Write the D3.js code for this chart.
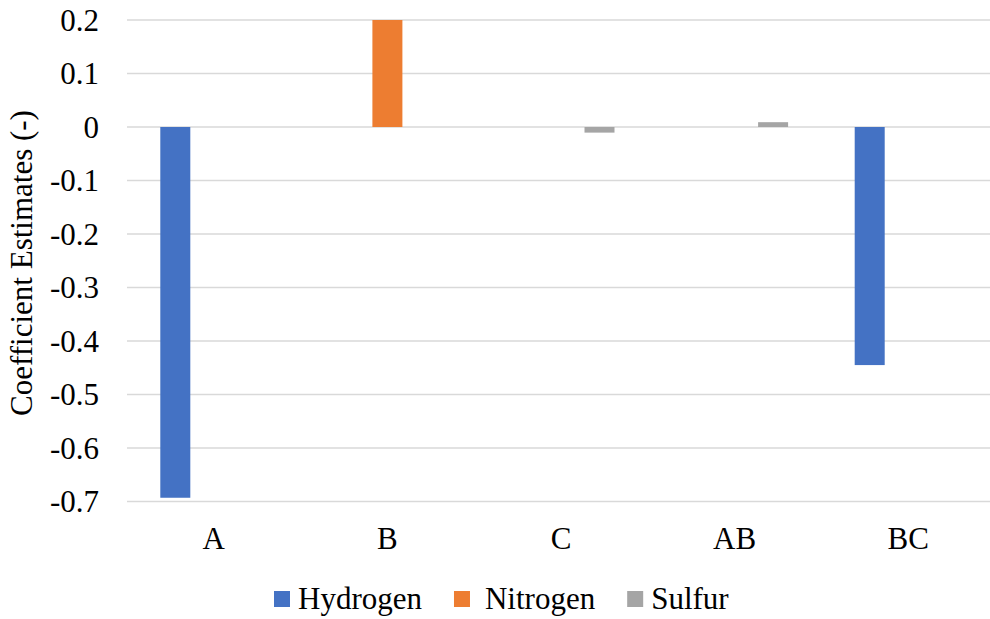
<!DOCTYPE html>
<html>
<head>
<meta charset="utf-8">
<script src="https://cdn.jsdelivr.net/npm/d3@7"></script>
</head>
<body style="margin:0">
<svg id="chart" width="990" height="619" font-family="Liberation Serif"></svg>
<script>
// Factors and the coefficient estimate of each response
const categories = ["A", "B", "C", "AB", "BC"];
const seriesNames = ["Hydrogen", "Nitrogen", "Sulfur"];
const hydrogen = [-0.693, 0, 0, 0, -0.445];
const nitrogen = [0, 0.2, 0, 0, 0];
const sulfur = [0, 0, -0.0105, 0.009, 0];
const yTicks = [0.2, 0.1, 0, -0.1, -0.2, -0.3, -0.4, -0.5, -0.6, -0.7];
const colors = ["#4472C4", "#ED7D31", "#A5A5A5"];

const seriesValues = [hydrogen, nitrogen, sulfur];

const FONT = "Liberation Serif";

const svg = d3.select("#chart");
const W = 990, H = 619;
const margin = { left: 127, right: -5, top: 20, bottom: 117.5 };
const fontSize = 31;

const x = d3.scaleBand()
  .domain(categories)
  .range([margin.left, W - margin.right])
  .paddingInner(0).paddingOuter(0);

const y = d3.scaleLinear()
  .domain([-0.7, 0.2])
  .range([H - margin.bottom, margin.top]);

// Bars within a category: 30px wide, centres 38.5px apart
const barW = 30, barStep = 38.5;
const sub = d3.scaleLinear().domain([0, 2]).range([-barStep, barStep]);

// Horizontal gridlines
svg.append("g")
  .selectAll("line")
  .data(yTicks)
  .join("line")
  .attr("x1", margin.left)
  .attr("x2", W)
  .attr("y1", d => y(d))
  .attr("y2", d => y(d))
  .attr("stroke", "#d9d9d9")
  .attr("stroke-width", 1.5);

// Y tick labels (plain hyphen for negatives)
svg.append("g")
  .selectAll("text")
  .data(yTicks)
  .join("text")
  .attr("x", margin.left - 28)
  .attr("y", d => y(d))
  .attr("dy", "0.34em")
  .attr("text-anchor", "end")
  .attr("font-size", fontSize)
  .attr("font-family", FONT)
  .text(d => d === 0 ? "0" : d.toFixed(1));

// Bars
const bars = [];
seriesValues.forEach((vals, si) => {
  vals.forEach((v, ci) => {
    if (v !== 0) bars.push({ s: si, c: categories[ci], v });
  });
});
svg.append("g")
  .selectAll("rect")
  .data(bars)
  .join("rect")
  .attr("x", d => x(d.c) + x.bandwidth() / 2 + sub(d.s) - barW / 2)
  .attr("width", barW)
  .attr("y", d => y(Math.max(0, d.v)))
  .attr("height", d => Math.abs(y(d.v) - y(0)))
  .attr("fill", d => colors[d.s]);

// Category labels
svg.append("g")
  .selectAll("text")
  .data(categories)
  .join("text")
  .attr("x", d => x(d) + x.bandwidth() / 2)
  .attr("y", y(-0.7) + 47)
  .attr("text-anchor", "middle")
  .attr("font-size", fontSize)
  .attr("font-family", FONT)
  .text(d => d);

// Y axis title
svg.append("text")
  .attr("transform", "translate(32,263) rotate(-90)")
  .attr("text-anchor", "middle")
  .attr("font-size", fontSize)
  .attr("font-family", FONT)
  .text("Coefficient Estimates (-)");

// Legend
const legend = svg.append("g");
let lx = 274;
const ly = 609;
seriesNames.forEach((name, i) => {
  legend.append("rect")
    .attr("x", lx).attr("y", ly - 18)
    .attr("width", 16).attr("height", 16)
    .attr("fill", colors[i]);
  const pad = i === 1 ? 15 : 8;
  const t = legend.append("text")
    .attr("x", lx + 16 + pad).attr("y", ly)
    .attr("font-size", fontSize)
    .attr("font-family", FONT)
    .text(name);
  lx = lx + 16 + pad + t.node().getComputedTextLength() + 32;
});
</script>
</body>
</html>
